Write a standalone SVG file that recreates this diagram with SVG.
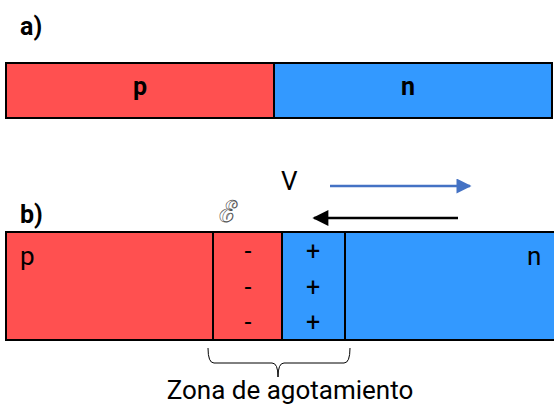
<svg xmlns="http://www.w3.org/2000/svg" width="554" height="407" viewBox="0 0 554 407">
  <style>
    text { font-family: Roboto, "Liberation Sans", sans-serif; fill: #000; }
    .bold { font-weight: bold; font-size: 25px; }
    .reg { font-size: 26px; }
    .p { fill: #FF5050; stroke: #000; stroke-width: 2; }
    .n { fill: #3399FF; stroke: #000; stroke-width: 2; }
    .sign { font-size: 25px; text-anchor: middle; }
  </style>
  <defs>
    <marker id="headBlue" viewBox="0 0 10 10" refX="9" refY="5" markerWidth="6.4" markerHeight="6" orient="auto" markerUnits="strokeWidth">
      <path d="M0,0 L10,5 L0,10 z" fill="#4472C4"/>
    </marker>
    <marker id="headBlack" viewBox="0 0 10 10" refX="9" refY="5" markerWidth="7" markerHeight="6.4" orient="auto" markerUnits="strokeWidth">
      <path d="M0,0 L10,5 L0,10 z" fill="#000"/>
    </marker>
  </defs>

  <!-- part a: plain junction -->
  <text class="bold" x="20" y="35">a)</text>
  <g id="a-p">
    <rect class="p" x="6" y="63" width="268" height="55"/>
    <text class="bold" x="140" y="95" text-anchor="middle">p</text>
  </g>
  <g id="a-n">
    <rect class="n" x="274" y="63" width="278" height="55"/>
    <text class="bold" x="408" y="95" text-anchor="middle">n</text>
  </g>

  <!-- part b: junction with depletion region -->
  <text class="bold" x="20" y="223">b)</text>
  <text class="reg" x="281" y="190">V</text>
  <text x="219" y="222" style="font-family: 'DejaVu Serif', serif; font-size: 30px; fill: #ffffff; stroke: #555; stroke-width: 0.6;">ℰ</text>

  <g id="b-p">
    <rect class="p" x="6" y="232" width="207" height="108"/>
    <text class="reg" x="20" y="265">p</text>
  </g>
  <g id="b-neg">
    <rect class="p" x="213" y="232" width="69" height="108"/>
    <text class="sign" x="248" y="260">-</text>
    <text class="sign" x="248" y="296">-</text>
    <text class="sign" x="248" y="331">-</text>
  </g>
  <g id="b-pos">
    <rect class="n" x="282" y="232" width="63" height="108"/>
    <text class="sign" x="313" y="260">+</text>
    <text class="sign" x="313" y="296">+</text>
    <text class="sign" x="313" y="331">+</text>
  </g>
  <g id="b-n">
    <rect class="n" x="345" y="232" width="210" height="108"/>
    <text class="reg" x="527" y="265">n</text>
  </g>

  <g id="connectors">
    <line x1="330" y1="186" x2="470" y2="186" stroke="#4472C4" stroke-width="2.5" marker-end="url(#headBlue)"/>
    <line x1="458" y1="218" x2="314" y2="218" stroke="#000" stroke-width="2.5" marker-end="url(#headBlack)"/>
    <path d="M208,348 Q208,363 214,363 L272,363 Q278,363 278,377 Q278,363 284,363 L344,363 Q350,363 350,348" fill="none" stroke="#000" stroke-width="1"/>
  </g>

  <text class="reg" x="290" y="399" text-anchor="middle">Zona de agotamiento</text>
</svg>
